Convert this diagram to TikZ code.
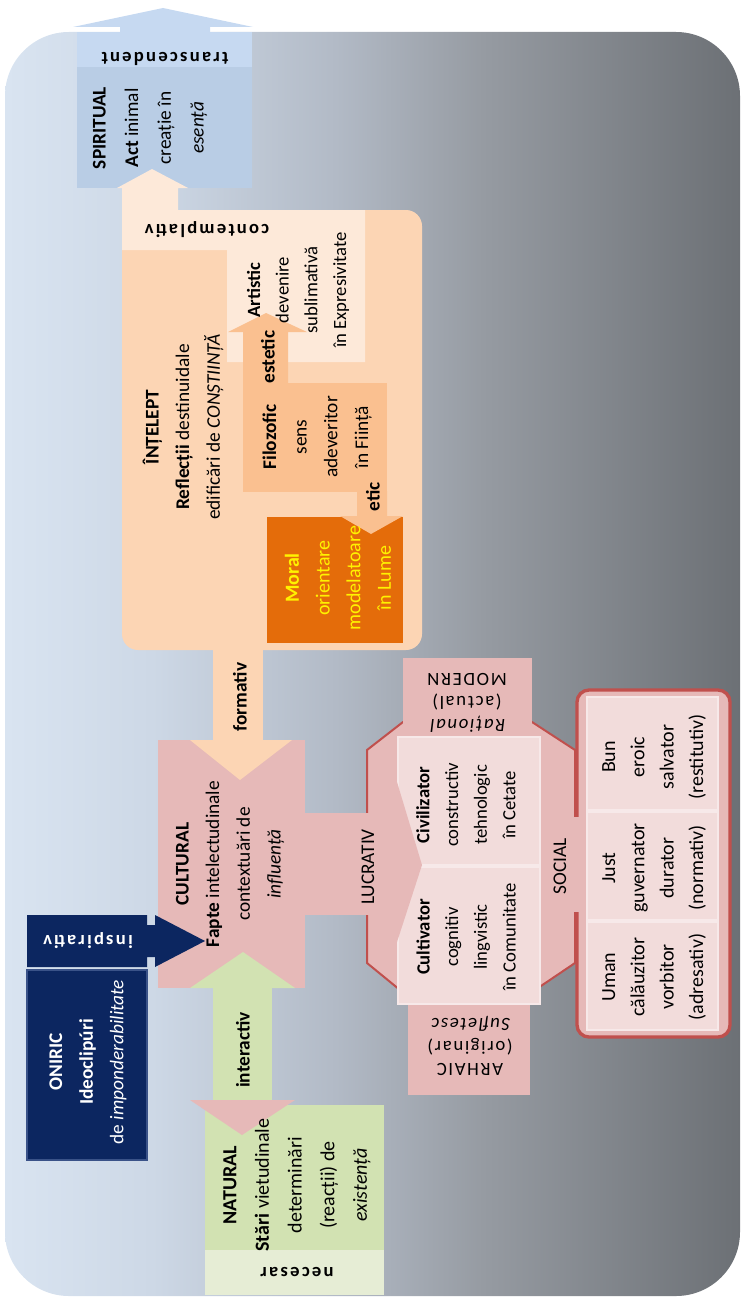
\documentclass[tikz,border=0pt]{standalone}
\usepackage{fontspec}
\setmainfont{Carlito}
\newfontfamily\spaced[LetterSpace=12]{Carlito}
\newfontfamily\wide[LetterSpace=9]{Carlito}

\definecolor{bgA}{HTML}{D9E4F1}
\definecolor{bgB}{HTML}{CDD8E6}
\definecolor{bgC}{HTML}{B2BAC6}
\definecolor{bgD}{HTML}{969BA2}
\definecolor{bgE}{HTML}{6C7075}
\definecolor{spirL}{HTML}{C6D9F1}
\definecolor{spirD}{HTML}{B9CDE5}
\definecolor{peach}{HTML}{FCD5B4}
\definecolor{peachL}{HTML}{FDE9D9}
\definecolor{peachD}{HTML}{FAC090}
\definecolor{moral}{HTML}{E46C0A}
\definecolor{rose}{HTML}{E6B9B8}
\definecolor{roseL}{HTML}{F2DCDB}
\definecolor{roseD}{HTML}{C0504D}
\definecolor{cellB}{HTML}{F7E9E9}
\definecolor{navy}{HTML}{0C2660}
\definecolor{navyL}{HTML}{3A5288}
\definecolor{natur}{HTML}{D2E2B2}
\definecolor{naturL}{HTML}{E6EDD5}

\pgfdeclarehorizontalshading{bgshade}{100bp}{color(0bp)=(bgA); color(25bp)=(bgA); color(35bp)=(bgB); color(47.5bp)=(bgC); color(57.5bp)=(bgD); color(75bp)=(bgE); color(100bp)=(bgE)}

\newcommand{\fs}{\fontsize{14.5}{23}\selectfont}
\newcommand{\fsw}{\fontsize{14.5}{24.5}\selectfont}
\newcommand{\fsn}{\fontsize{15}{24.5}\selectfont}
\newcommand{\fsm}{\fontsize{15}{23}\selectfont}
\newcommand{\fsc}{\fontsize{14}{21.5}\selectfont}
\newcommand{\fss}{\fontsize{15}{22}\selectfont}
\newcommand{\lblfont}{\fontsize{14}{16}\selectfont\spaced\bfseries}
\newcommand{\agefont}{\fontsize{14}{17}\selectfont\wide}

\tikzset{every picture/.style={line width=0.75pt}}
\tikzset{
  txt/.style={rotate=90, align=center, inner sep=0.75pt, font=\fs},
  txtw/.style={rotate=90, align=center, inner sep=0.75pt, font=\fsw},
  celltxt/.style={rotate=90, align=center, inner sep=0.75pt, font=\fsc},
  soctxt/.style={rotate=90, align=center, inner sep=0.75pt, font=\fss},
  lbl/.style={rotate=180, align=center, inner sep=0.75pt, font=\lblfont},
  agelbl/.style={rotate=180, align=center, inner sep=0.75pt, font=\agefont},
  cellbox/.style={fill=roseL, draw=cellB, line width=1pt},
}

\begin{document}
\begin{tikzpicture}[x=0.75pt,y=0.75pt,yscale=-1,xscale=1]
\useasboundingbox (0,0) rectangle (744,1302);

%Shape: Background
\path [shading=bgshade, rounded corners=48pt] (5,32) rectangle (740,1296) ;

%Shape: Arrow spiritual
\fill [spirL] (120,33) -- (120,27) -- (73,27) -- (163,8) -- (253,27) -- (210,27) -- (210,33) -- cycle ;
%Shape: Rectangle
\fill [spirL] (77,32) rectangle (252,67) ;
\fill [spirD] (77,67) rectangle (252,188) ;
%Shape: Arrow contemplativ
\fill [peachL] (122,212) -- (122,188) -- (117,188) -- (152,169) -- (188,188) -- (178,188) -- (178,212) -- cycle ;

%Shape: Rounded Rectangle
\fill [peach, rounded corners=12pt] (122,210) rectangle (422,650) ;
%Shape: Polygon
\fill [peachL] (122,210) -- (365,210) -- (365,362) -- (227,362) -- (227,250) -- (122,250) -- cycle ;
%Shape: Rectangle
\fill [peachD] (243,383) rectangle (387,492) ;
%Shape: Arrow estetic
\fill [peachD] (243,384) -- (243,332) -- (228,332) -- (266,313) -- (307,332) -- (288,332) -- (288,384) -- cycle ;
%Shape: Rectangle
\fill [moral] (267,517) rectangle (403,643) ;
%Shape: Arrow etic
\fill [peachD] (357,491) -- (357,516) -- (340,516) -- (371,534) -- (403,516) -- (387,516) -- (387,491) -- cycle ;

%Shape: Rectangle
\fill [peach] (213,648) rectangle (263,742) ;
%Shape: Rectangle
\fill [rose] (158,740) rectangle (305,988) ;
%Shape: Triangle
\fill [peach] (190,740) -- (240,780) -- (292,740) -- cycle ;

%Shape: Octagon
\filldraw [fill=rose, draw=roseD, line width=1.5pt] (367,750) -- (403,722) -- (532,722) -- (575,750) -- (575,963) -- (535,990) -- (400,990) -- (367,963) -- cycle ;
%Shape: Rectangle
\fill [rose] (403,658) rectangle (532,738) ;
\fill [rose] (408,992) rectangle (530,1095) ;
%Shape: Rectangle
\fill [rose] (304,813) rectangle (399,915) ;
%Shape: Rectangle
\filldraw [cellbox] (398,737) rectangle (540,865) ;
\filldraw [cellbox] (398,867) rectangle (540,1004) ;
%Shape: Triangle
\fill [rose] (397,782) -- (422,865) -- (397,942) -- cycle ;

%Shape: Rounded Rectangle
\filldraw [fill=rose, draw=roseD, line width=2.5pt, rounded corners=9pt] (577,690) rectangle (730,1037) ;
\filldraw [cellbox] (587,697) rectangle (718,810) ;
\filldraw [cellbox] (587,812) rectangle (718,920) ;
\filldraw [cellbox] (587,922) rectangle (718,1030) ;
%Shape: Rectangle
\fill [rose] (544,817) rectangle (585,912) ;

%Shape: Triangle
\fill [natur] (190,988) -- (243,952) -- (295,988) -- cycle ;
%Shape: Rectangle
\fill [natur] (213,987) rectangle (272,1106) ;
\fill [natur] (205,1105) rectangle (384,1295) ;
\fill [naturL] (205,1250) rectangle (384,1295) ;
%Shape: Triangle
\fill [rose] (190,1100) -- (242,1135) -- (295,1100) -- cycle ;

%Shape: Arrow inspirativ
\fill [navy] (27,915) -- (147,915) -- (147,925) -- (155,925) -- (155,915) -- (205,941) -- (155,967) -- (155,957) -- (147,957) -- (147,967) -- (27,967) -- cycle ;
%Shape: Rectangle
\filldraw [fill=navy, draw=navyL, line width=1pt] (27,970) rectangle (147,1160) ;

% Text Node
\node (transc) at (165,59) [lbl] {transcendent};
% Text Node
\node (spirit) at (150,128) [txtw] {\textbf{SPIRITUAL}\\\textbf{Act} inimal\\creație în\\\textit{esență}};
% Text Node
\node (contempl) at (207,230) [lbl] {contemplativ};
% Text Node
\node (intelept) at (183,427) [txt] {\textbf{ÎNȚELEPT}\\\textbf{Reflecții} destinuidale\\edificări de \textit{CONȘTIINȚĂ}};
% Text Node
\node (artistic) at (298,290) [celltxt] {\textbf{Artistic}\\devenire\\sublimativă\\în Expresivitate};
% Text Node
\node (estetic) at (268,357) [txt] {\textbf{estetic}};
% Text Node
\node (filoz) at (317,437) [txt] {\textbf{Filozofic}\\sens\\adeveritor\\în Ființă};
% Text Node
\node (etic) at (373,497) [txt] {\textbf{etic}};
% Text Node
\node (moral) at (338,578) [txt, font=\fsm, text=yellow] {\textbf{Moral}\\orientare\\modelatoare\\în Lume};
% Text Node
\node (formativ) at (240,697) [txt] {\textbf{formativ}};
% Text Node
\node (cultural) at (230,864) [txt] {\textbf{CULTURAL}\\\textbf{Fapte} intelectudinale\\contextuări de\\\textit{influență}};
% Text Node
\node (inspir) at (88,941) [lbl, text=white] {inspirativ};
% Text Node
\node (oniric) at (88,1062) [txt, text=white] {\textbf{ONIRIC}\\\textbf{Ideoclipúri}\\de \textit{imponderabilitate}};
% Text Node
\node (interact) at (243,1050) [txt] {\textbf{interactiv}};
% Text Node
\node (natural) at (297,1185) [txt, font=\fsn] {\textbf{NATURAL}\\\textbf{Stări} vietudinale\\determinări\\(reacții) de\\\textit{existență}};
% Text Node
\node (necesar) at (297,1272) [lbl] {necesar};
% Text Node
\node (lucrativ) at (368,867) [txt] {LUCRATIV};
% Text Node
\node (civil) at (466,805) [celltxt] {\textbf{Civilizator}\\constructiv\\tehnologic\\în Cetate};
% Text Node
\node (cultiv) at (466,937) [celltxt] {\textbf{Cultivator}\\cognitiv\\lingvistic\\în Comunitate};
% Text Node
\node (social) at (560,866) [txt] {SOCIAL};
% Text Node
\node (modern) at (467,703) [agelbl] {\textit{Rațional}\\(actual)\\MODERN};
% Text Node
\node (arhaic) at (470,1046) [agelbl] {ARHAIC\\(originar)\\\textit{Sufletesc}};
% Text Node
\node (bun) at (654,757) [soctxt] {Bun\\eroic\\salvator\\(restitutiv)};
% Text Node
\node (just) at (654,868) [soctxt] {Just\\guvernator\\durator\\(normativ)};
% Text Node
\node (uman) at (654,977) [soctxt] {Uman\\călăuzitor\\vorbitor\\(adresativ)};

\end{tikzpicture}
\end{document}
